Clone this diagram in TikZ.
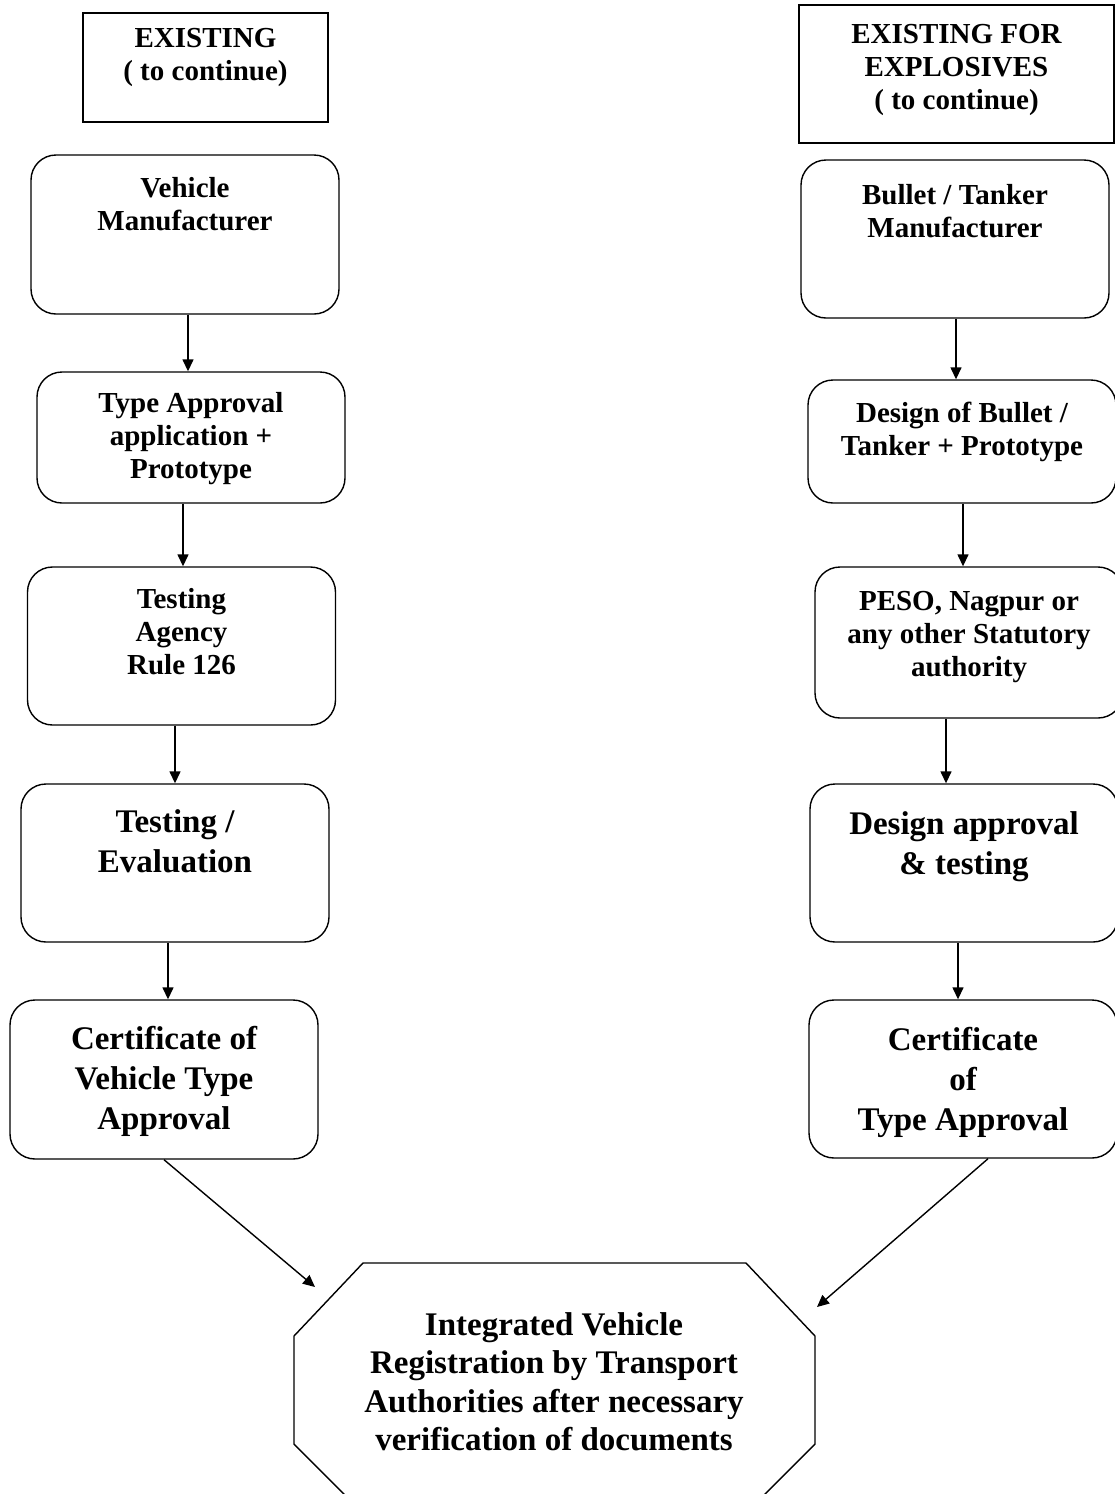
\documentclass[tikz,border=0pt]{standalone}
\usepackage{fontspec}
\setmainfont{Liberation Serif}
\usetikzlibrary{positioning,arrows.meta}

\tikzset{
  headbox/.style={draw, line width=1.4pt, inner sep=0pt},
  stepbox/.style={draw, line width=1.4pt, rounded corners=25pt, minimum width=308pt, inner sep=0pt},
  smalltext/.style={align=center, inner sep=0pt, font=\fontsize{29}{33}\selectfont\bfseries},
  bigtext/.style={align=center, inner sep=0pt, font=\fontsize{33}{40}\selectfont\bfseries},
  octtext/.style={align=center, inner sep=0pt, font=\fontsize{33}{38.5}\selectfont\bfseries},
  flow/.style={-{Triangle[length=12pt,width=11pt]}, line width=1.4pt}
}

\begin{document}
\begin{tikzpicture}[x=1pt,y=-1pt]
  \fill[white] (0,0) rectangle (1115,1494);
  \useasboundingbox (0,0) rectangle (1115,1494);

  % left column
  \node[headbox, minimum width=245pt, minimum height=109pt] (exist) at (205.5,67.5) {};
  \node[smalltext, below=16pt of exist.north] (exist-t) {EXISTING\\( to continue)};

  \node[stepbox, minimum height=159pt] (vm) at (185,234.5) {};
  \node[smalltext, below=23pt of vm.north] (vm-t) {Vehicle\\Manufacturer};

  \node[stepbox, minimum height=131pt] (tap) at (191,437.5) {};
  \node[smalltext, below=21pt of tap.north] (tap-t) {Type Approval\\application +\\Prototype};

  \node[stepbox, minimum height=158pt] (tag) at (181.5,646) {};
  \node[smalltext, below=22pt of tag.north] (tag-t) {Testing\\Agency\\Rule 126};

  \node[stepbox, minimum height=158pt] (teval) at (175,863) {};
  \node[bigtext, below=26pt of teval.north] (teval-t) {Testing /\\Evaluation};

  \node[stepbox, minimum height=159pt] (cert) at (164,1079.5) {};
  \node[bigtext, below=27pt of cert.north] (cert-t) {Certificate of\\Vehicle Type\\Approval};

  % right column
  \node[headbox, minimum width=315pt, minimum height=138pt] (exple) at (956.5,74) {};
  \node[smalltext, below=20pt of exple.north] (exple-t) {EXISTING FOR\\EXPLOSIVES\\( to continue)};

  \node[stepbox, minimum height=158pt] (btm) at (955,239) {};
  \node[smalltext, below=25pt of btm.north] (btm-t) {Bullet / Tanker\\Manufacturer};

  \node[stepbox, minimum height=123pt] (dob) at (962,441.5) {};
  \node[smalltext, below=23pt of dob.north] (dob-t) {Design of Bullet /\\Tanker + Prototype};

  \node[stepbox, minimum height=151pt] (peso) at (969,642.5) {};
  \node[smalltext, below=25pt of peso.north] (peso-t) {PESO, Nagpur or\\any other Statutory\\authority};

  \node[stepbox, minimum height=158pt] (dat) at (964,863) {};
  \node[bigtext, below=28pt of dat.north] (dat-t) {Design approval\\\& testing};

  \node[stepbox, minimum height=158pt] (certr) at (963,1079) {};
  \node[bigtext, below=28pt of certr.north] (certr-t) {Certificate\\of\\Type Approval};

  % registration octagon
  \coordinate (oct) at (554,1388);
  \draw[line width=1.4pt, shift={(oct)}] (-191,-125) -- (192,-125) -- (261,-52) -- (261,56)
    -- (192,125) -- (-191,125) -- (-260,56) -- (-260,-52) -- cycle;
  \node[octtext, anchor=north] (reg) at (554,1312) {Integrated Vehicle\\Registration by Transport\\Authorities after necessary\\verification of documents};
  \coordinate (regL) at (315,1287);
  \coordinate (regR) at (817,1307);

  % arrows
  \draw[flow] ([xshift=3pt]vm.south) -- ([xshift=3pt]vm.south |- tap.north);
  \draw[flow] ([xshift=-8pt]tap.south) -- ([xshift=-8pt]tap.south |- tag.north);
  \draw[flow] ([xshift=-6.5pt]tag.south) -- ([xshift=-6.5pt]tag.south |- teval.north);
  \draw[flow] ([xshift=-7pt]teval.south) -- ([xshift=-7pt]teval.south |- cert.north);
  \draw[flow] (cert.south) -- (regL);

  \draw[flow] ([xshift=1pt]btm.south) -- ([xshift=1pt]btm.south |- dob.north);
  \draw[flow] ([xshift=1pt]dob.south) -- ([xshift=1pt]dob.south |- peso.north);
  \draw[flow] ([xshift=-23pt]peso.south) -- ([xshift=-23pt]peso.south |- dat.north);
  \draw[flow] ([xshift=-6pt]dat.south) -- ([xshift=-6pt]dat.south |- certr.north);
  \draw[flow] ([xshift=25pt]certr.south) -- (regR);
\end{tikzpicture}
\end{document}
